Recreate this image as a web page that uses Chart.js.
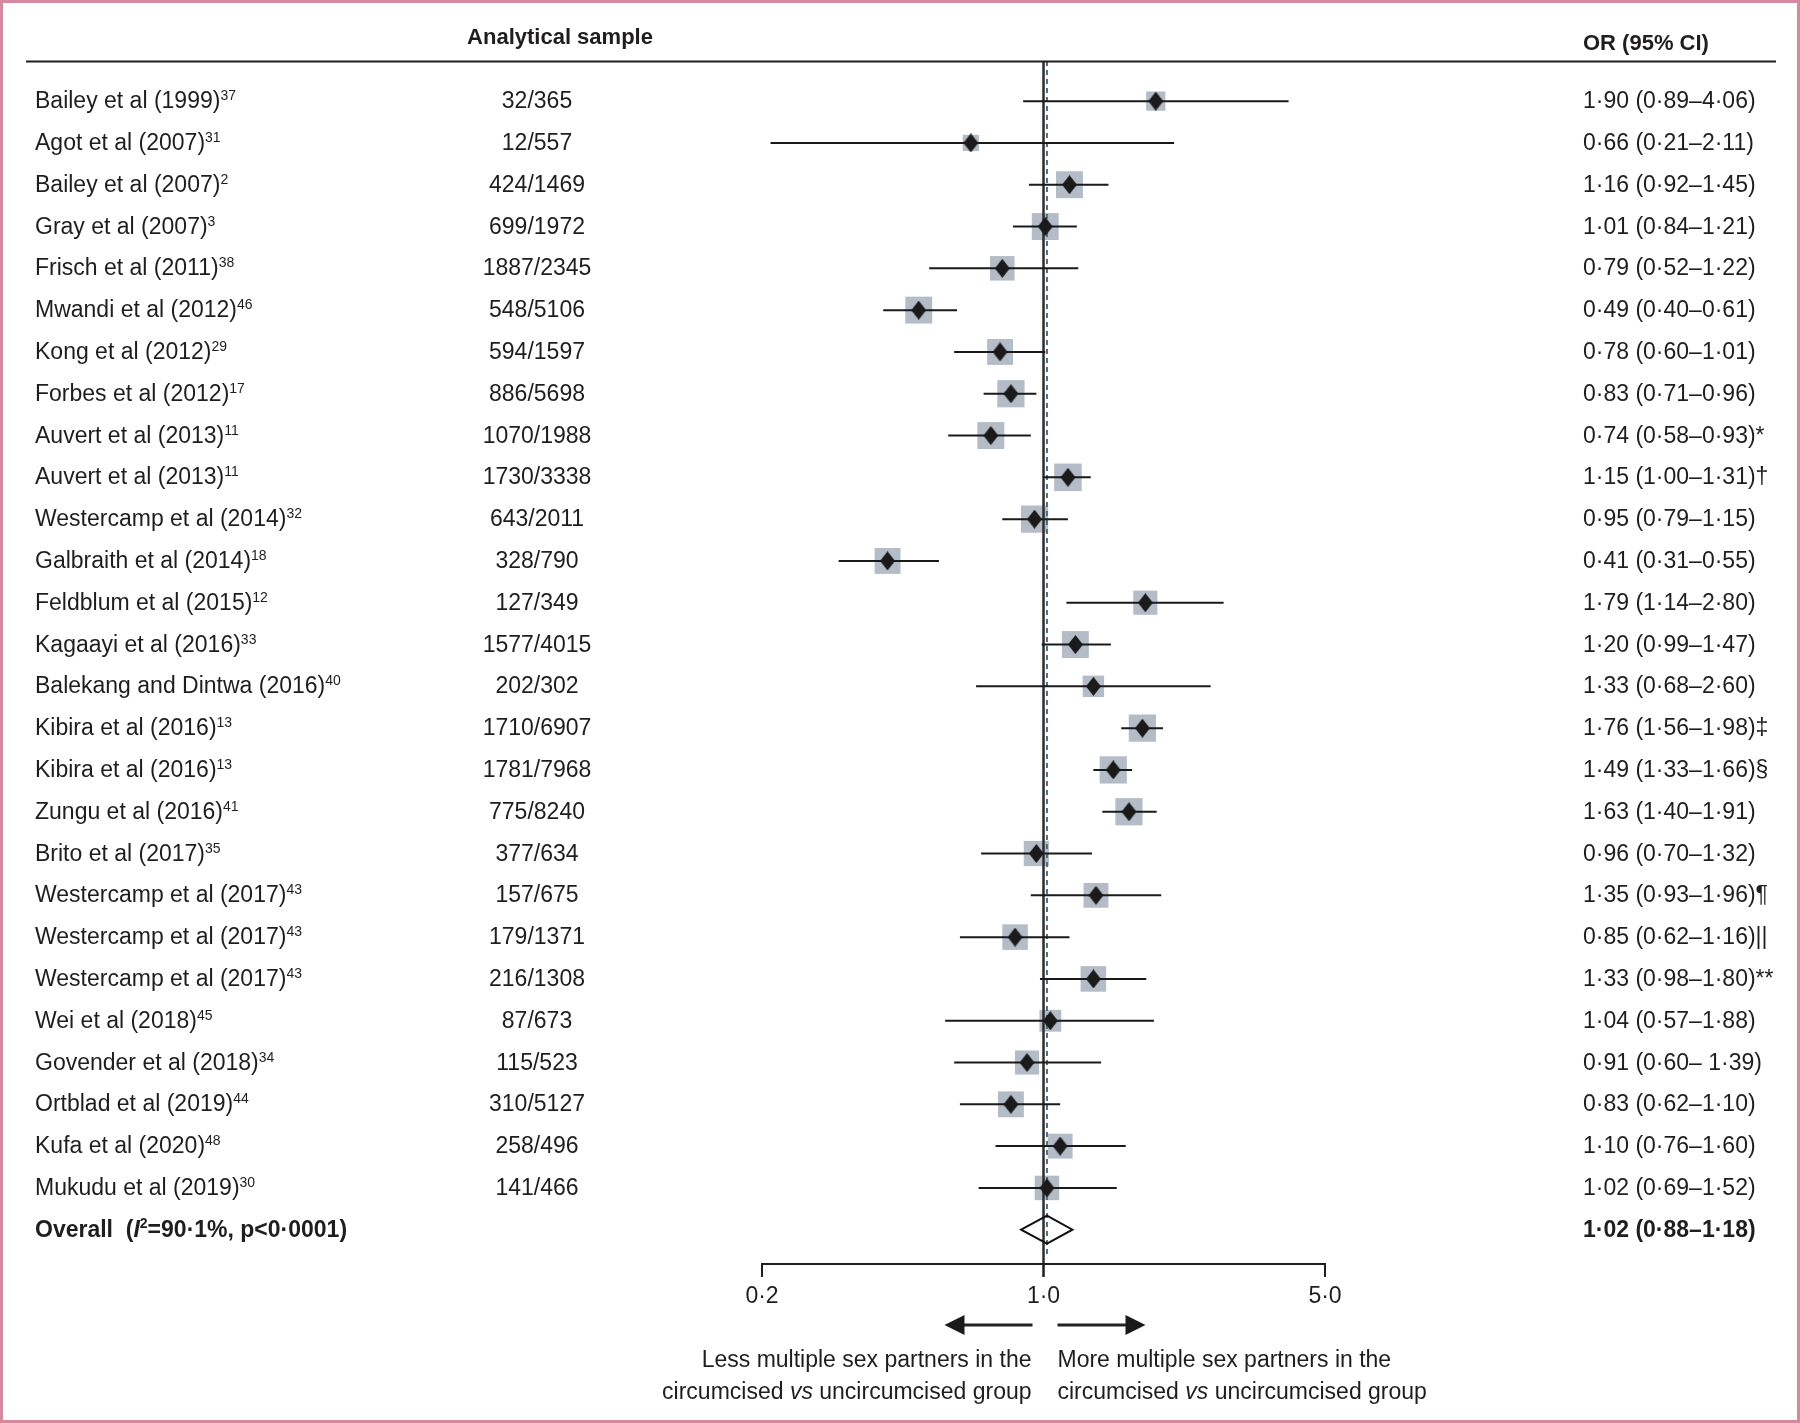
<!DOCTYPE html>
<html><head><meta charset="utf-8">
<script src="https://cdn.jsdelivr.net/npm/chart.js@4/dist/chart.umd.min.js"></script>
<style>html,body{margin:0;padding:0;background:#fff;}canvas{display:block;}</style>
</head><body>
<canvas id="c" width="1800" height="1423"></canvas>
<script>
// ---------------- DATA ----------------
const studies = ["Bailey et al (1999)","Agot et al (2007)","Bailey et al (2007)","Gray et al (2007)","Frisch et al (2011)","Mwandi et al (2012)","Kong et al (2012)","Forbes et al (2012)","Auvert et al (2013)","Auvert et al (2013)","Westercamp et al (2014)","Galbraith et al (2014)","Feldblum et al (2015)","Kagaayi et al (2016)","Balekang and Dintwa (2016)","Kibira et al (2016)","Kibira et al (2016)","Zungu et al (2016)","Brito et al (2017)","Westercamp et al (2017)","Westercamp et al (2017)","Westercamp et al (2017)","Wei et al (2018)","Govender et al (2018)","Ortblad et al (2019)","Kufa et al (2020)","Mukudu et al (2019)"];
const refs = ["37","31","2","3","38","46","29","17","11","11","32","18","12","33","40","13","13","41","35","43","43","43","45","34","44","48","30"];
const samples = ["32/365","12/557","424/1469","699/1972","1887/2345","548/5106","594/1597","886/5698","1070/1988","1730/3338","643/2011","328/790","127/349","1577/4015","202/302","1710/6907","1781/7968","775/8240","377/634","157/675","179/1371","216/1308","87/673","115/523","310/5127","258/496","141/466"];
const oddsRatios = [1.90,0.66,1.16,1.01,0.79,0.49,0.78,0.83,0.74,1.15,0.95,0.41,1.79,1.20,1.33,1.76,1.49,1.63,0.96,1.35,0.85,1.33,1.04,0.91,0.83,1.10,1.02];
const ciLower = [0.89,0.21,0.92,0.84,0.52,0.40,0.60,0.71,0.58,1.00,0.79,0.31,1.14,0.99,0.68,1.56,1.33,1.40,0.70,0.93,0.62,0.98,0.57,0.60,0.62,0.76,0.69];
const ciUpper = [4.06,2.11,1.45,1.21,1.22,0.61,1.01,0.96,0.93,1.31,1.15,0.55,2.80,1.47,2.60,1.98,1.66,1.91,1.32,1.96,1.16,1.80,1.88,1.39,1.10,1.60,1.52];
const notes = ["","","","","","","","","*","†","","","","","","‡","§","","","¶","||","**","","","","",""];
const weights = [2.1,1.5,4.1,4.1,3.4,4.1,3.8,4.2,4.1,4.3,4.2,3.8,3.3,4.1,2.6,4.2,4.2,4.2,3.6,3.5,3.7,3.7,2.7,3.3,3.8,3.5,3.4];
const spacedDashRows = [23];
const overallOR = 1.02, overallLower = 0.88, overallUpper = 1.18;
const overallHet = {i2: "90·1%", p: "p<0·0001"};
const xTicks = [0.2, 1, 5];
const xTickLabels = ["0·2","1·0","5·0"];
const headers = {sample: "Analytical sample", or: "OR (95% CI)"};
const directionLeft = ["Less multiple sex partners in the", "circumcised", "vs", "uncircumcised group"];
const directionRight = ["More multiple sex partners in the", "circumcised", "vs", "uncircumcised group"];

// ---------------- LAYOUT / STYLE ----------------
const W = 1800, H = 1423;
const FONT = '"Liberation Sans", Arial, Helvetica, sans-serif';
const INK = '#1f1d1e';
const SQUARE = '#b4bdc7';
const nRows = studies.length;           // 27 studies; overall on row 27
const overallRow = nRows;
const yMin = -0.96, yMax = 27.82;

const fmt = v => v.toFixed(2).replace('.', '·');

// diamond marker image
const diamond = document.createElement('canvas');
diamond.width = 15; diamond.height = 19;
(function(){
  const d = diamond.getContext('2d');
  d.fillStyle = '#1a1a1a';
  d.beginPath(); d.moveTo(7.5,0); d.lineTo(15,9.5); d.lineTo(7.5,19); d.lineTo(0,9.5); d.closePath(); d.fill();
})();

// datasets built from data arrays
const squareData = oddsRatios.map((v,i)=>({x:v,y:i}));
const ciData = [];
ciLower.forEach((lo,i)=>{ ciData.push({x:lo,y:i},{x:ciUpper[i],y:i},{x:ciUpper[i],y:null}); });

function drawRich(ctx, segs, x, y, align) {
  let total = 0;
  segs.forEach(s => { ctx.font = s.font; total += ctx.measureText(s.t).width; });
  let cx = align === 'right' ? x - total : (align === 'center' ? x - total/2 : x);
  ctx.textAlign = 'left';
  segs.forEach(s => {
    ctx.font = s.font;
    ctx.fillText(s.t, cx, y + (s.dy || 0));
    cx += ctx.measureText(s.t).width;
  });
}

const forestPlugin = {
  id: 'forest',
  afterDraw(chart) {
    const ctx = chart.ctx, xs = chart.scales.x, ys = chart.scales.y, ca = chart.chartArea;
    ctx.save();
    // frame
    ctx.strokeStyle = '#d6889f'; ctx.lineWidth = 3;
    ctx.strokeRect(1.5, 1.5, W - 3, H - 3);

    // header line
    ctx.strokeStyle = INK; ctx.lineWidth = 2;
    ctx.beginPath(); ctx.moveTo(26, ca.top + 0.5); ctx.lineTo(1776, ca.top + 0.5); ctx.stroke();

    ctx.fillStyle = INK; ctx.textBaseline = 'alphabetic';
    ctx.font = 'bold 22px ' + FONT; ctx.textAlign = 'center';
    ctx.fillText(headers.sample, 560, 44);
    ctx.textAlign = 'left';
    ctx.fillText(headers.or, 1583, 50);

    const reg = '23px ' + FONT, sup = '14px ' + FONT;
    for (let i = 0; i < nRows; i++) {
      const by = ys.getPixelForValue(i) + 7;
      drawRich(ctx, [{t: studies[i], font: reg}, {t: refs[i], font: sup, dy: -8}], 35, by, 'left');
      ctx.font = reg; ctx.textAlign = 'center';
      ctx.fillText(samples[i], 537, by);
      const dash = spacedDashRows.includes(i) ? '– ' : '–';
      ctx.textAlign = 'left';
      ctx.fillText(fmt(oddsRatios[i]) + ' (' + fmt(ciLower[i]) + dash + fmt(ciUpper[i]) + ')' + notes[i], 1583, by);
    }
    // overall row
    const oy = ys.getPixelForValue(overallRow) + 7;
    const b = 'bold 23px ' + FONT;
    drawRich(ctx, [
      {t: 'Overall  (', font: b},
      {t: 'I', font: 'italic bold 23px ' + FONT},
      {t: '2', font: 'bold 14px ' + FONT, dy: -9},
      {t: '=' + overallHet.i2 + ', ' + overallHet.p + ')', font: b}
    ], 35, oy, 'left');
    ctx.font = b; ctx.textAlign = 'left';
    ctx.fillText(fmt(overallOR) + ' (' + fmt(overallLower) + '–' + fmt(overallUpper) + ')', 1583, oy);

    // overall diamond (hollow)
    const cyo = ys.getPixelForValue(overallRow);
    const xl = xs.getPixelForValue(overallLower), xm = xs.getPixelForValue(overallOR), xr = xs.getPixelForValue(overallUpper);
    ctx.strokeStyle = '#111'; ctx.lineWidth = 2;
    ctx.beginPath(); ctx.moveTo(xl, cyo); ctx.lineTo(xm, cyo - 14); ctx.lineTo(xr, cyo); ctx.lineTo(xm, cyo + 14); ctx.closePath(); ctx.stroke();

    // x axis
    const ay = ca.bottom;
    ctx.strokeStyle = INK; ctx.lineWidth = 2;
    ctx.beginPath(); ctx.moveTo(xs.getPixelForValue(xTicks[0]), ay); ctx.lineTo(xs.getPixelForValue(xTicks[xTicks.length-1]), ay); ctx.stroke();
    ctx.font = reg; ctx.textAlign = 'center'; ctx.fillStyle = INK;
    xTicks.forEach((t, k) => {
      const px = xs.getPixelForValue(t);
      ctx.lineWidth = k === 1 ? 2.5 : 2;
      ctx.beginPath(); ctx.moveTo(px, ay - 1); ctx.lineTo(px, ay + 13); ctx.stroke();
      ctx.fillText(xTickLabels[k], px, ay + 39);
    });

    // direction arrows
    const xc = xs.getPixelForValue(1);
    const arY = ay + 61;
    function arrow(x0, x1) {
      const dir = Math.sign(x1 - x0);
      ctx.strokeStyle = '#222'; ctx.lineWidth = 3;
      ctx.beginPath(); ctx.moveTo(x0, arY); ctx.lineTo(x1 - dir * 16, arY); ctx.stroke();
      ctx.fillStyle = '#1a1a1a';
      ctx.beginPath(); ctx.moveTo(x1, arY); ctx.lineTo(x1 - dir * 20, arY - 10); ctx.lineTo(x1 - dir * 20, arY + 10); ctx.closePath(); ctx.fill();
    }
    arrow(xc - 11, xc - 99);
    arrow(xc + 14, xc + 102);

    ctx.fillStyle = INK;
    const it = 'italic 23px ' + FONT;
    drawRich(ctx, [{t: directionLeft[0], font: reg}], xc - 12, ay + 103, 'right');
    drawRich(ctx, [{t: directionLeft[1] + ' ', font: reg}, {t: directionLeft[2], font: it}, {t: ' ' + directionLeft[3], font: reg}], xc - 12, ay + 135, 'right');
    drawRich(ctx, [{t: directionRight[0], font: reg}], xc + 14, ay + 103, 'left');
    drawRich(ctx, [{t: directionRight[1] + ' ', font: reg}, {t: directionRight[2], font: it}, {t: ' ' + directionRight[3], font: reg}], xc + 14, ay + 135, 'left');
    ctx.restore();
  }
};

new Chart(document.getElementById('c'), {
  type: 'scatter',
  data: {
    datasets: [
      { // weight squares
        type: 'scatter', order: 5, data: squareData,
        pointStyle: 'rect',
        pointRadius: ctx => 9.4 * Math.sqrt(weights[ctx.dataIndex] || 0),
        backgroundColor: SQUARE, borderWidth: 0
      },
      { // null line (OR = 1)
        type: 'line', order: 4,
        data: [{x: 1, y: yMin}, {x: 1, y: yMax}],
        borderColor: '#2e2e2e', borderWidth: 2.5, pointRadius: 0, fill: false, clip: false
      },
      { // pooled estimate line
        type: 'line', order: 4,
        data: [{x: overallOR, y: yMin}, {x: overallOR, y: overallRow + 0.6}],
        borderColor: '#4a6f86', borderWidth: 2, borderDash: [5, 4], pointRadius: 0, fill: false
      },
      { // confidence intervals
        type: 'line', order: 3, data: ciData,
        borderColor: '#1a1a1a', borderWidth: 2, pointRadius: 0, fill: false, spanGaps: false
      },
      { // point estimates
        type: 'scatter', order: 2, data: squareData,
        pointStyle: diamond, pointRadius: 8, backgroundColor: '#1a1a1a'
      }
    ]
  },
  options: {
    responsive: false, animation: false, devicePixelRatio: 1, events: [],
    layout: { padding: { left: 762, right: 475, top: 61, bottom: 159 } },
    scales: {
      x: { type: 'logarithmic', min: 0.2, max: 5, display: false },
      y: { type: 'linear', reverse: true, min: yMin, max: yMax, display: false }
    },
    plugins: { legend: { display: false }, tooltip: { enabled: false } }
  },
  plugins: [forestPlugin]
});
</script>
</body></html>
